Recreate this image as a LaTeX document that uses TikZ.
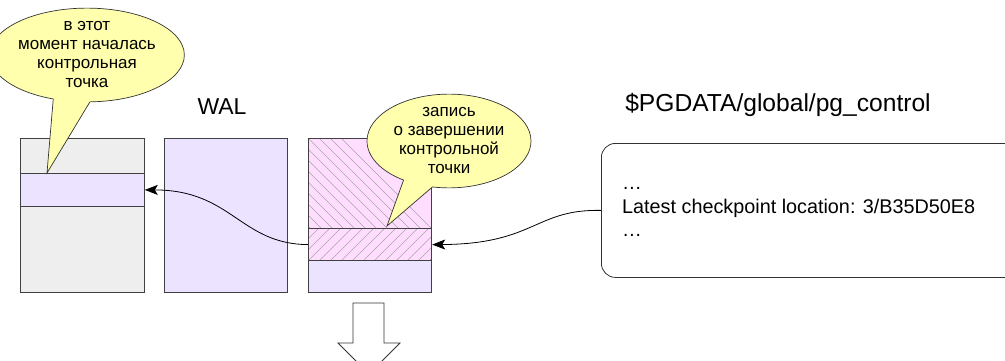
\documentclass[tikz,border=0pt]{standalone}
\usepackage{fontspec}
\setmainfont{Liberation Sans}
\usetikzlibrary{shapes.callouts,arrows.meta}
\definecolor{boxgray}{HTML}{EEEEEE}
\definecolor{lav}{HTML}{EBE3FF}
\definecolor{pinkish}{HTML}{FFDDFF}
\definecolor{calloutyellow}{HTML}{FFFFAE}
\definecolor{hatchgray}{HTML}{A8A8A8}
\tikzset{
  pagebox/.style={draw=black!75, line width=0.8pt, inner sep=0pt, anchor=north west},
  callout/.style={ellipse callout, draw=black!80, line width=0.7pt, fill=calloutyellow,
    align=center, inner sep=0pt, callout pointer arc=22, font=\fontsize{17}{19}\selectfont},
  conn/.style={draw=black, line width=0.8pt, -{Stealth[length=13pt,width=10pt,inset=3pt]}},
  title/.style={font=\fontsize{23}{27}\selectfont, inner sep=0pt},
}
\begin{document}
\begin{tikzpicture}[x=1pt,y=-1pt]
\useasboundingbox (0,0) rectangle (1005,360);
% box 1
\node[pagebox, fill=boxgray, minimum width=124, minimum height=154] (b1) at (20,138) {};
\node[pagebox, fill=lav, minimum width=124, minimum height=33] (b1s) at (20,173) {};
% box 2
\node[pagebox, fill=lav, minimum width=123, minimum height=154] (b2) at (164,138) {};
% box 3
\node[pagebox, fill=lav, minimum width=123, minimum height=154] (b3) at (308,138) {};
\fill[pinkish] (308,138) rectangle (431,260);
\begin{scope}
  \clip (308,138) rectangle (431,228);
  \foreach \i in {-12,...,3} {
    \draw[hatchgray, line width=0.5pt] (308+\i*11,138) -- ++(120,120);
  }
\end{scope}
\begin{scope}
  \clip (308,228) rectangle (431,260);
  \foreach \i in {0,...,16} {
    \draw[hatchgray, line width=0.5pt] (308+\i*11,228) -- ++(-40,40);
  }
\end{scope}
\draw[black!75, line width=0.8pt] (308,138) rectangle (431,292);
\node[pagebox, minimum width=123, minimum height=32, line width=1.2pt] (b3s) at (308,228) {};
% titles
\node[title] (wal) at (222,107) {WAL};
\node[title, font=\fontsize{24.6}{28}\selectfont] (pgt) at (778,105) {\$PGDATA/global/pg\_control};
% pg_control box
\node[draw=black!80, line width=0.8pt, rounded corners=14pt, anchor=north west,
  minimum width=430, minimum height=134, inner sep=0pt] (pg) at (601,143) {};
\node[anchor=west, align=left, inner sep=0pt, font=\fontsize{19.8}{23.5}\selectfont] (pgtext) at (622,212)
  {…\\Latest checkpoint location: 3/B35D50E8\\…};
% connectors
\draw[conn] (pg.west) .. controls (535,209) and (535,244) .. (b3s.east);
\draw[conn] (b3s.west) .. controls (240,244) and (232,190) .. (b1s.east);
% callouts
\node[callout, minimum width=162, minimum height=80, callout absolute pointer={(47,173)}] (c1) at (87,55)
  {в этот\\момент началась\\контрольная\\точка};
\node[callout, minimum width=164, minimum height=92, callout absolute pointer={(387,226)}] (c2) at (449,141)
  {запись\\о завершении\\контрольной\\точки};
% down arrow
\draw[black!80, line width=0.8pt, fill=white] (353,303) -- (384,303) -- (384,343) -- (400,343) -- (369,374) -- (338,343) -- (353,343) -- cycle;
\end{tikzpicture}
\end{document}
